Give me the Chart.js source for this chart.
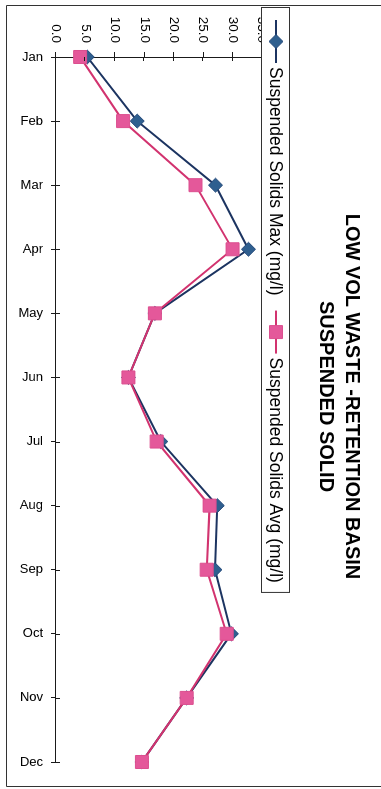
<!DOCTYPE html>
<html>
<head>
<meta charset="utf-8">
<script src="https://cdn.jsdelivr.net/npm/chart.js@4"></script>
<style>
  html, body { margin: 0; padding: 0; background: #fff; overflow: hidden; width: 381px; height: 789px; }
  /* the chart is laid out landscape and turned a quarter clockwise onto the portrait page */
  #wrap { position: absolute; left: 0; top: 0; width: 789px; height: 381px;
          transform-origin: 0 0; transform: translateX(381px) rotate(90deg); }
  canvas { display: block; }
</style>
</head>
<body>
<div id="wrap"><canvas id="c" width="789" height="381"></canvas></div>
<script>
// Monthly suspended solids, low volume waste retention basin (mg/l)
const months = ['Jan', 'Feb', 'Mar', 'Apr', 'May', 'Jun', 'Jul', 'Aug', 'Sep', 'Oct', 'Nov', 'Dec'];
const solidsMax = [5.3, 13.8, 27.1, 32.7, 16.8, 12.3, 17.8, 27.4, 27.0, 29.8, 22.2, 14.6];
const solidsAvg = [4.1, 11.4, 23.7, 30.0, 16.8, 12.3, 17.1, 26.1, 25.6, 29.0, 22.2, 14.6];
const seriesNames = ['Suspended Solids Max (mg/l)', 'Suspended Solids Avg (mg/l)'];
const titleLines = ['LOW VOL WASTE -RETENTION BASIN', 'SUSPENDED SOLID'];
const valueMin = 0, valueMax = 35, valueStep = 5;

const FONT = '"Liberation Sans", Arial, sans-serif';
const AXIS = '#1a1a1a';

// Tick marks that cross the axis lines, outer frame, title and the boxed legend
const decor = {
  id: 'decor',
  afterDraw(chart) {
    const ctx = chart.ctx;
    const xs = chart.scales.x, ys = chart.scales.y, a = chart.chartArea;
    ctx.save();

    // inner half of each tick mark
    ctx.strokeStyle = AXIS;
    ctx.lineWidth = 1;
    ctx.beginPath();
    xs.ticks.forEach((t, i) => {
      const p = Math.round(xs.getPixelForTick(i)) + 0.5;
      ctx.moveTo(p, a.bottom); ctx.lineTo(p, a.bottom - 4);
    });
    ys.ticks.forEach((t, i) => {
      const p = Math.round(ys.getPixelForTick(i)) + 0.5;
      ctx.moveTo(a.left, p); ctx.lineTo(a.left + 4, p);
    });
    ctx.stroke();

    // outer frame
    ctx.strokeStyle = '#333';
    ctx.beginPath();
    ctx.moveTo(5.5, 0); ctx.lineTo(5.5, 374.5); ctx.lineTo(786.5, 374.5); ctx.lineTo(786.5, 0);
    ctx.stroke();

    // title
    ctx.fillStyle = '#000';
    ctx.font = 'bold 20px ' + FONT;
    ctx.textAlign = 'center';
    ctx.textBaseline = 'middle';
    ctx.fillText(titleLines[0], chart.width / 2 + 2, 29);
    ctx.fillText(titleLines[1], chart.width / 2 + 2, 55);

    // legend: one row, line sample with marker, then the series name
    const ds = chart.data.datasets;
    const top = 91, bottom = 119, mid = (top + bottom) / 2;
    ctx.font = '17.5px ' + FONT;
    ctx.textAlign = 'left';
    let x0 = 20;
    const items = ds.map((d) => {
      const it = { d, x0, tx: x0 + 47 };
      x0 = it.tx + ctx.measureText(d.label).width + 15;
      return it;
    });
    const right = x0 - 6;
    ctx.fillStyle = '#fff';
    ctx.fillRect(7, top, right - 7, bottom - top);
    ctx.strokeStyle = '#333';
    ctx.lineWidth = 1;
    ctx.strokeRect(7.5, top + 0.5, right - 7, bottom - top);
    items.forEach((it) => {
      const d = it.d;
      ctx.strokeStyle = d.borderColor;
      ctx.lineWidth = 2;
      ctx.beginPath();
      ctx.moveTo(it.x0, mid); ctx.lineTo(it.x0 + 43, mid);
      ctx.stroke();
      ctx.fillStyle = d.pointBackgroundColor;
      ctx.strokeStyle = d.pointBorderColor;
      ctx.lineWidth = 1;
      Chart.helpers.drawPoint(ctx, {
        pointStyle: d.pointStyle, radius: d.pointRadius, rotation: 0, borderWidth: 1
      }, it.x0 + 21.5, mid);
      ctx.fillStyle = '#000';
      ctx.fillText(d.label, it.tx, mid + 1);
    });
    ctx.restore();
  }
};

new Chart(document.getElementById('c'), {
  type: 'line',
  data: {
    labels: months,
    datasets: [
      {
        label: seriesNames[0],
        data: solidsMax,
        borderColor: '#1c3461',
        backgroundColor: '#2f5f8f',
        pointBackgroundColor: '#2f5f8f',
        pointBorderColor: '#24497a',
        borderWidth: 2,
        pointStyle: 'rectRot',
        pointRadius: 7,
        pointBorderWidth: 1,
        order: 2
      },
      {
        label: seriesNames[1],
        data: solidsAvg,
        borderColor: '#d2336f',
        backgroundColor: '#e4589a',
        pointBackgroundColor: '#e4589a',
        pointBorderColor: '#dc4f8f',
        borderWidth: 2,
        pointStyle: 'rect',
        pointRadius: 9.2,
        pointBorderWidth: 1,
        order: 1
      }
    ]
  },
  options: {
    responsive: false,
    animation: false,
    devicePixelRatio: 1,
    layout: { padding: { left: 5, right: 27, top: 119, bottom: 0 } },
    plugins: { legend: { display: false }, title: { display: false }, tooltip: { enabled: false } },
    elements: { line: { tension: 0 } },
    scales: {
      x: {
        type: 'category',
        offset: false,
        grid: { display: true, drawOnChartArea: false, drawTicks: true, tickLength: 5, color: AXIS, lineWidth: 1 },
        border: { display: true, color: AXIS, width: 1 },
        ticks: { minRotation: 90, maxRotation: 90, autoSkip: false, padding: 8, color: '#000', font: { family: FONT, size: 13 } },
        afterFit(s) { s.height = 56; }
      },
      y: {
        min: valueMin,
        max: valueMax,
        grid: { display: true, drawOnChartArea: false, drawTicks: true, tickLength: 5, color: AXIS, lineWidth: 1 },
        border: { display: true, color: AXIS, width: 1 },
        ticks: { stepSize: valueStep, padding: 9, color: '#000', font: { family: FONT, size: 13.5 },
                 callback: (v) => Number(v).toFixed(1) },
        afterFit(s) { s.width = 52; }
      }
    }
  },
  plugins: [decor]
});
</script>
</body>
</html>
